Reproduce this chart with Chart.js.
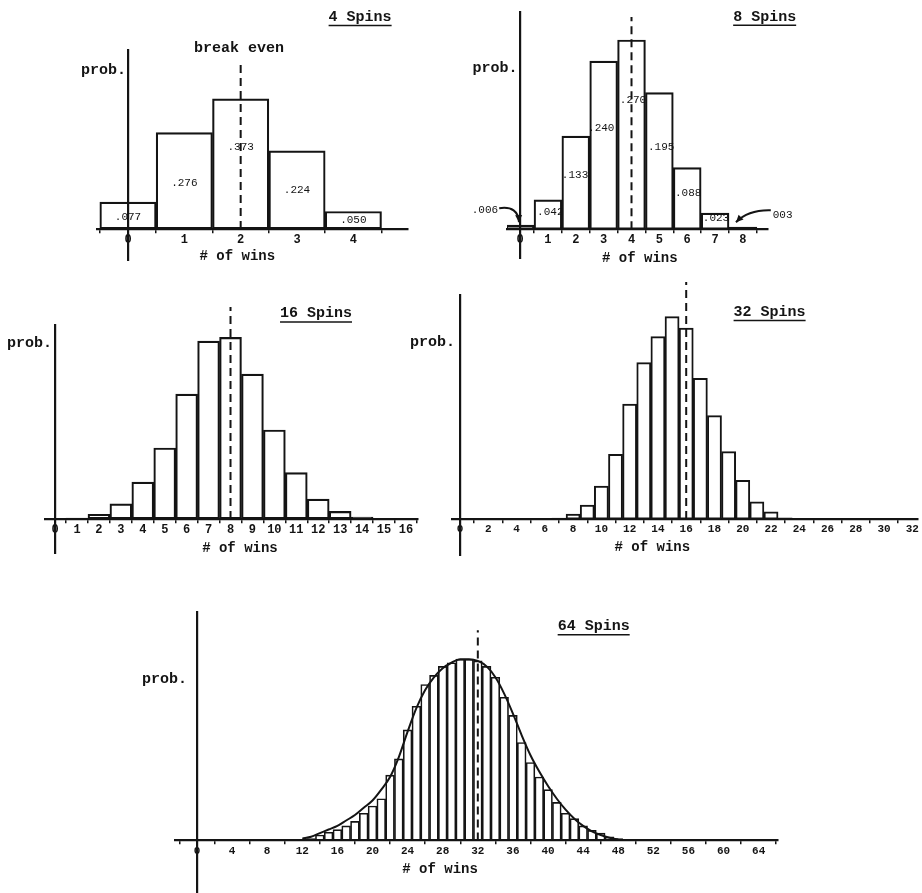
<!DOCTYPE html>
<html>
<head>
<meta charset="utf-8">
<script src="https://cdn.jsdelivr.net/npm/chart.js@4.4.1/dist/chart.umd.min.js"></script>
<style>
  html, body { margin: 0; padding: 0; background: #fff; }
  body { width: 922px; height: 893px; position: relative; overflow: hidden; }
  canvas { position: absolute; }
</style>
</head>
<body>
<canvas id="c4"  width="360" height="275" style="left:60px;top:0px"></canvas>
<canvas id="c8"  width="360" height="275" style="left:460px;top:0px"></canvas>
<canvas id="c16" width="430" height="278" style="left:0px;top:282px"></canvas>
<canvas id="c32" width="517" height="278" style="left:405px;top:282px"></canvas>
<canvas id="c64" width="660" height="308" style="left:140px;top:585px"></canvas>
<script>
// ---- data ----
const wins4 = [0, 1, 2, 3, 4];
const prob4 = [0.077, 0.276, 0.373, 0.224, 0.050];
const text4 = ['.077', '.276', '.373', '.224', '.050'];
const ticks4 = [0, 1, 2, 3, 4];

const wins8 = [0, 1, 2, 3, 4, 5, 6, 7, 8];
const prob8 = [0.006, 0.042, 0.133, 0.240, 0.270, 0.195, 0.088, 0.023, 0.003];
const text8 = ['.006', '.042', '.133', '.240', '.270', '.195', '.088', '.023', '003'];
const ticks8 = [0, 1, 2, 3, 4, 5, 6, 7, 8];

const wins16 = [0, 1, 2, 3, 4, 5, 6, 7, 8, 9, 10, 11, 12, 13, 14, 15, 16];
const prob16 = [0.0002, 0.0008, 0.005, 0.016, 0.039, 0.075, 0.132, 0.188, 0.192,
                0.153, 0.094, 0.049, 0.021, 0.008, 0.002, 0.0006, 0.0002];
const ticks16 = [0, 1, 2, 3, 4, 5, 6, 7, 8, 9, 10, 11, 12, 13, 14, 15, 16];

const wins32 = [7, 8, 9, 10, 11, 12, 13, 14, 15, 16, 17, 18, 19, 20, 21, 22, 23];
const prob32 = [0.0007, 0.0035, 0.0098, 0.023, 0.045, 0.080, 0.109, 0.127, 0.141,
                0.133, 0.098, 0.072, 0.047, 0.027, 0.012, 0.005, 0.0008];
const ticks32 = [0, 2, 4, 6, 8, 10, 12, 14, 16, 18, 20, 22, 24, 26, 28, 30, 32];

const wins64 = [12, 13, 14, 15, 16, 17, 18, 19, 20, 21, 22, 23, 24, 25, 26, 27, 28, 29, 30,
                31, 32, 33, 34, 35, 36, 37, 38, 39, 40, 41, 42, 43, 44, 45, 46, 47, 48];
const prob64 = [0.0006, 0.001, 0.003, 0.0045, 0.006, 0.008, 0.0105, 0.015, 0.019, 0.023,
                0.036, 0.045, 0.061, 0.074, 0.086, 0.091, 0.096, 0.098, 0.100,
                0.100, 0.099, 0.096, 0.090, 0.079, 0.069, 0.054, 0.043, 0.035, 0.028,
                0.021, 0.015, 0.012, 0.008, 0.0055, 0.004, 0.002, 0.001];
const curve64 = [0.001, 0.002, 0.004, 0.006, 0.008, 0.011, 0.014, 0.018, 0.022, 0.028,
                 0.035, 0.046, 0.060, 0.073, 0.083, 0.090, 0.095, 0.098, 0.100,
                 0.100, 0.099, 0.096, 0.090, 0.081, 0.070, 0.058, 0.047, 0.038, 0.030,
                 0.023, 0.017, 0.012, 0.008, 0.005, 0.003, 0.0015, 0.0005];
const ticks64 = [0, 4, 8, 12, 16, 20, 24, 28, 32, 36, 40, 44, 48, 52, 56, 60, 64];

const breakEven = [2, 4, 8, 16, 32];

const INK = '#141414';
const FONT = '"Liberation Mono", "DejaVu Sans Mono", monospace';

Chart.defaults.font.family = FONT;
Chart.defaults.color = INK;

// text + arrows drawn in data coordinates of each chart
function notes(texts, arrows) {
  return {
    id: 'notes',
    afterDatasetsDraw(chart) {
      const { ctx, scales: { x, y } } = chart;
      ctx.save();
      ctx.fillStyle = INK;
      ctx.strokeStyle = INK;
      texts.forEach(t => {
        ctx.font = `${t.weight || 'bold'} ${t.size}px ${FONT}`;
        ctx.textAlign = t.align || 'center';
        ctx.textBaseline = 'middle';
        const px = x.getPixelForValue(t.x);
        const py = y.getPixelForValue(t.y);
        ctx.fillText(t.text, px, py);
        if (t.underline) {
          const w = ctx.measureText(t.text).width;
          const x0 = t.align === 'left' ? px : t.align === 'right' ? px - w : px - w / 2;
          ctx.lineWidth = 1.5;
          ctx.beginPath();
          ctx.moveTo(x0, py + t.size * 0.55);
          ctx.lineTo(x0 + w, py + t.size * 0.55);
          ctx.stroke();
        }
      });
      arrows.forEach(a => {
        const sx = x.getPixelForValue(a.from[0]), sy = y.getPixelForValue(a.from[1]);
        const cx = x.getPixelForValue(a.via[0]), cy = y.getPixelForValue(a.via[1]);
        const ex = x.getPixelForValue(a.to[0]), ey = y.getPixelForValue(a.to[1]);
        ctx.lineWidth = 2;
        ctx.beginPath();
        ctx.moveTo(sx, sy);
        ctx.quadraticCurveTo(cx, cy, ex, ey);
        ctx.stroke();
        const ang = Math.atan2(ey - cy, ex - cx);
        ctx.beginPath();
        ctx.moveTo(ex, ey);
        ctx.lineTo(ex - 8 * Math.cos(ang - 0.45), ey - 8 * Math.sin(ang - 0.45));
        ctx.lineTo(ex - 8 * Math.cos(ang + 0.45), ey - 8 * Math.sin(ang + 0.45));
        ctx.closePath();
        ctx.fill();
      });
      ctx.restore();
    }
  };
}

function spinChart(id, p) {
  const datasets = [{
    type: 'bar',
    data: p.wins.map((w, i) => ({ x: w, y: p.probs[i] })),
    backgroundColor: 'rgba(0,0,0,0)',
    borderColor: INK,
    borderWidth: p.barLine,
    borderSkipped: false,
    barPercentage: 1,
    categoryPercentage: 1,
    order: 3
  }];
  if (p.curve) {
    datasets.push({
      type: 'line',
      data: p.wins.map((w, i) => ({ x: w, y: p.curve[i] })),
      borderColor: INK,
      borderWidth: 2,
      pointRadius: 0,
      cubicInterpolationMode: 'monotone',
      fill: false,
      order: 2
    });
  }
  datasets.push({
    type: 'line',
    data: [{ x: p.even, y: 0 }, { x: p.even, y: p.evenTop }],
    borderColor: INK,
    borderWidth: 2,
    borderDash: [8, 5],
    pointRadius: 0,
    clip: false,
    order: 1
  });

  return new Chart(document.getElementById(id), {
    type: 'bar',
    data: { datasets },
    options: {
      responsive: false,
      animation: false,
      events: [],
      layout: { padding: p.pad },
      plugins: { legend: { display: false }, tooltip: { enabled: false } },
      scales: {
        x: {
          type: 'linear',
          min: p.xr[0],
          max: p.xr[1],
          offset: false,
          position: { y: 0 },
          afterBuildTicks: s => { s.ticks = p.ticks.map(v => ({ value: v })); },
          afterFit: s => { s.height = 0; },
          grid: { display: true, drawOnChartArea: false, drawTicks: true, tickLength: 3, color: INK, lineWidth: 1.5 },
          border: { display: true, color: INK, width: 2.2 },
          ticks: {
            color: INK,
            font: { size: p.tickSize, weight: 'bold' },
            padding: 1,
            maxRotation: 0,
            autoSkip: false,
            callback: v => String(v)
          }
        },
        y: {
          type: 'linear',
          min: p.yr[0],
          max: p.yr[1],
          position: { x: 0 },
          afterFit: s => { s.width = 0; },
          grid: { display: false },
          ticks: { display: false },
          border: { display: true, color: INK, width: 2.2 }
        }
      }
    },
    plugins: [notes(p.texts, p.arrows || [])]
  });
}

// 4 spins
spinChart('c4', {
  wins: wins4, probs: prob4, ticks: ticks4, even: breakEven[0], evenTop: 0.47,
  xr: [-0.55, 4.97], yr: [-0.089, 0.513],
  pad: { left: 37, right: 12, top: 50, bottom: 15 },
  barLine: 1.5, tickSize: 12,
  texts: [
    { text: '4 Spins', x: 4.12, y: 0.607, size: 15, underline: true },
    { text: 'break even', x: 1.97, y: 0.519, size: 15 },
    { text: 'prob.', x: -0.035, y: 0.456, size: 15, align: 'right' },
    { text: '# of wins', x: 1.94, y: -0.080, size: 14 },
    { text: text4[0], x: wins4[0], y: 0.034, size: 11, weight: 'normal' },
    { text: text4[1], x: wins4[1], y: 0.132, size: 11, weight: 'normal' },
    { text: text4[2], x: wins4[2], y: 0.235, size: 11, weight: 'normal' },
    { text: text4[3], x: wins4[3], y: 0.112, size: 11, weight: 'normal' },
    { text: text4[4], x: wins4[4], y: 0.026, size: 11, weight: 'normal' }
  ]
});

// 8 spins
spinChart('c8', {
  wins: wins8, probs: prob8, ticks: ticks8, even: breakEven[1], evenTop: 0.303,
  xr: [-0.47, 8.9], yr: [-0.041, 0.31],
  pad: { left: 47, right: 52, top: 12, bottom: 17 },
  barLine: 1.5, tickSize: 12,
  texts: [
    { text: '8 Spins', x: 8.78, y: 0.303, size: 15, underline: true },
    { text: 'prob.', x: -0.09, y: 0.23, size: 15, align: 'right' },
    { text: '# of wins', x: 4.3, y: -0.041, size: 14 },
    { text: text8[0], x: -0.79, y: 0.027, size: 11, weight: 'normal', align: 'right' },
    { text: text8[1], x: 0.61, y: 0.024, size: 11, weight: 'normal', align: 'left' },
    { text: text8[2], x: 1.5, y: 0.077, size: 11, weight: 'normal', align: 'left' },
    { text: text8[3], x: 2.44, y: 0.144, size: 11, weight: 'normal', align: 'left' },
    { text: text8[4], x: 3.58, y: 0.184, size: 11, weight: 'normal', align: 'left' },
    { text: text8[5], x: 4.59, y: 0.117, size: 11, weight: 'normal', align: 'left' },
    { text: text8[6], x: 5.56, y: 0.051, size: 11, weight: 'normal', align: 'left' },
    { text: text8[7], x: 6.56, y: 0.016, size: 11, weight: 'normal', align: 'left' },
    { text: text8[8], x: 9.07, y: 0.020, size: 11, weight: 'normal', align: 'left' }
  ],
  arrows: [
    { from: [-0.75, 0.030], via: [-0.07, 0.034], to: [-0.04, 0.010] },
    { from: [9.0, 0.027], via: [8.2, 0.028], to: [7.75, 0.010] }
  ]
});

// 16 spins
spinChart('c16', {
  wins: wins16, probs: prob16, ticks: ticks16, even: breakEven[2], evenTop: 0.224,
  xr: [-0.46, 16.55], yr: [-0.036, 0.205],
  pad: { left: 45, right: 12, top: 43, bottom: 7 },
  barLine: 1.5, tickSize: 12,
  texts: [
    { text: '16 Spins', x: 11.9, y: 0.217, size: 15, underline: true },
    { text: 'prob.', x: -0.14, y: 0.186, size: 15, align: 'right' },
    { text: '# of wins', x: 8.43, y: -0.031, size: 14 }
  ]
});

// 32 spins
spinChart('c32', {
  wins: wins32, probs: prob32, ticks: ticks32, even: breakEven[3], evenTop: 0.167,
  xr: [-0.57, 32.4], yr: [-0.025, 0.156],
  pad: { left: 47, right: 4, top: 13, bottom: 5 },
  barLine: 1.3, tickSize: 11,
  texts: [
    { text: '32 Spins', x: 21.9, y: 0.144, size: 15, underline: true },
    { text: 'prob.', x: -0.35, y: 0.123, size: 15, align: 'right' },
    { text: '# of wins', x: 13.6, y: -0.020, size: 14 }
  ]
});

// 64 spins, with the smooth curve over the bars
spinChart('c64', {
  wins: wins64, probs: prob64, curve: curve64, ticks: ticks64, even: breakEven[4], evenTop: 0.116,
  xr: [-2.5, 66.2], yr: [-0.029, 0.126],
  pad: { left: 35, right: 22, top: 27, bottom: 0 },
  barLine: 1.0, tickSize: 11,
  texts: [
    { text: '64 Spins', x: 45.2, y: 0.118, size: 15, underline: true },
    { text: 'prob.', x: -1.14, y: 0.0887, size: 15, align: 'right' },
    { text: '# of wins', x: 27.7, y: -0.016, size: 14 }
  ]
});
</script>
</body>
</html>
